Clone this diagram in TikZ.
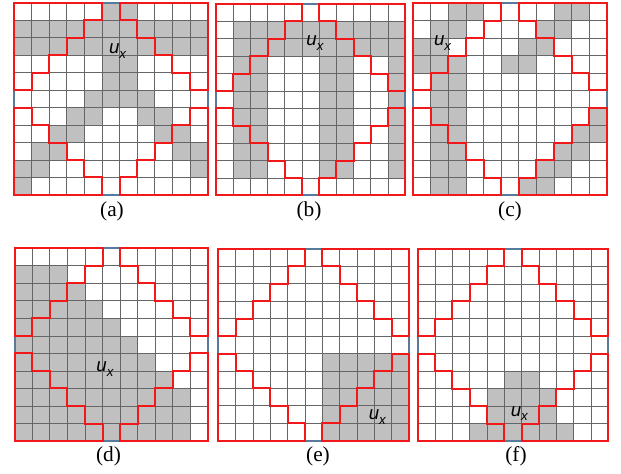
\documentclass[tikz,border=0pt]{standalone}
\usepackage{fontspec}
\setmainfont{Liberation Serif}
\newfontfamily\uxfont{Liberation Sans}
\usepackage{xcolor}
\definecolor{cellgray}{HTML}{C0C0C0}
\definecolor{stairred}{HTML}{F01818}
\definecolor{rimblue}{HTML}{5A7A9C}
\newcommand{\ux}{{\uxfont\itshape\fontsize{14}{16}\selectfont u\raisebox{-3.6pt}{\fontsize{10}{12}\selectfont x}}}
\newcommand{\panelframe}{%
  \foreach \i in {0,...,11} {
    \draw[gridline] (\i,0) -- (\i,11);
    \draw[gridline] (0,\i) -- (11,\i);
  }
  \draw[rim] (0,0) rectangle (11,11);
  \draw[stair] (0,0) -- (5,0) -- (5,1) -- (4,1) -- (4,2) -- (3,2) -- (3,3) -- (2,3)
    -- (2,4) -- (1,4) -- (1,5) -- (0,5) -- cycle;
  \draw[stair] (11,0) -- (6,0) -- (6,1) -- (7,1) -- (7,2) -- (8,2) -- (8,3) -- (9,3)
    -- (9,4) -- (10,4) -- (10,5) -- (11,5) -- cycle;
  \draw[stair] (0,11) -- (5,11) -- (5,10) -- (4,10) -- (4,9) -- (3,9) -- (3,8) -- (2,8)
    -- (2,7) -- (1,7) -- (1,6) -- (0,6) -- cycle;
  \draw[stair] (11,11) -- (6,11) -- (6,10) -- (7,10) -- (7,9) -- (8,9) -- (8,8) -- (9,8)
    -- (9,7) -- (10,7) -- (10,6) -- (11,6) -- cycle;
}

\begin{document}
\begin{tikzpicture}[
  x=0.75pt, y=-0.75pt,
  cell/.style={fill=cellgray},
  gridline/.style={draw=black!60, line width=0.6pt},
  rim/.style={draw=rimblue, line width=1.5pt},
  stair/.style={draw=stairred, line width=1.5pt, line join=miter},
  caption/.style={font=\fontsize{16}{18}\selectfont, inner sep=0pt},
  symbol/.style={anchor=base west, inner sep=0pt}
]
\useasboundingbox (0,0) rectangle (621,474);

\begin{scope}[shift={(14,3)}, xscale=17.6, yscale=17.45]
  \foreach \xa/\ya/\xb/\yb in {5/0/7/1, 0/1/11/3, 5/3/7/5, 4/5/8/6, 3/6/5/7, 7/6/9/7, 2/7/4/8, 8/7/10/8, 1/8/3/9, 9/8/11/9, 0/9/2/10, 10/9/11/10, 0/10/1/11}
    \fill[cell] (\xa,\ya) rectangle (\xb,\yb);
  \panelframe
\end{scope}

\begin{scope}[shift={(216,4)}, xscale=17.2, yscale=17.4]
  \foreach \xa/\ya/\xb/\yb in {1/1/11/3, 1/3/3/10, 6/3/8/10, 10/3/11/10}
    \fill[cell] (\xa,\ya) rectangle (\xb,\yb);
  \panelframe
\end{scope}

\begin{scope}[shift={(413.3,3.3)}, xscale=17.58, yscale=17.43]
  \foreach \xa/\ya/\xb/\yb in {2/0/4/1, 8/0/10/1, 1/1/3/2, 7/1/9/2, 0/2/2/3, 6/2/8/3, 0/3/3/4, 5/3/7/4, 1/4/3/11, 10/6/11/7, 9/7/11/8, 8/8/10/9, 7/9/9/10, 6/10/8/11}
    \fill[cell] (\xa,\ya) rectangle (\xb,\yb);
  \panelframe
\end{scope}

\begin{scope}[shift={(14.7,248.3)}, xscale=17.57, yscale=17.52]
  \foreach \xa/\ya/\xb/\yb in {0/1/3/2, 0/2/4/3, 0/3/5/4, 0/4/6/5, 0/5/7/6, 0/6/8/7, 0/7/9/8, 0/8/10/11}
    \fill[cell] (\xa,\ya) rectangle (\xb,\yb);
  \panelframe
\end{scope}

\begin{scope}[shift={(218.3,249)}, xscale=17.34, yscale=17.43]
  \fill[cell] (6,6) rectangle (11,11);
  \panelframe
\end{scope}

\begin{scope}[shift={(417.7,249)}, xscale=17.33, yscale=17.45]
  \foreach \xa/\ya/\xb/\yb in {5/7/7/8, 4/8/8/10, 3/10/9/11}
    \fill[cell] (\xa,\ya) rectangle (\xb,\yb);
  \panelframe
\end{scope}

\node[symbol] (ux-a) at (108.8,53.3) {\ux};
\node[symbol] (ux-b) at (306.2,45.8) {\ux};
\node[symbol] (ux-c) at (433.8,46) {\ux};
\node[symbol] (ux-d) at (96.2,371.7) {\ux};
\node[symbol] (ux-e) at (368.5,419.3) {\ux};
\node[symbol] (ux-f) at (510.5,416) {\ux};

\node[caption] (cap-a) at (112,211) {(a)};
\node[caption] (cap-b) at (309,211) {(b)};
\node[caption] (cap-c) at (510,211) {(c)};
\node[caption] (cap-d) at (108.5,456) {(d)};
\node[caption] (cap-e) at (318,456) {(e)};
\node[caption] (cap-f) at (516,456) {(f)};
\end{tikzpicture}
\end{document}
